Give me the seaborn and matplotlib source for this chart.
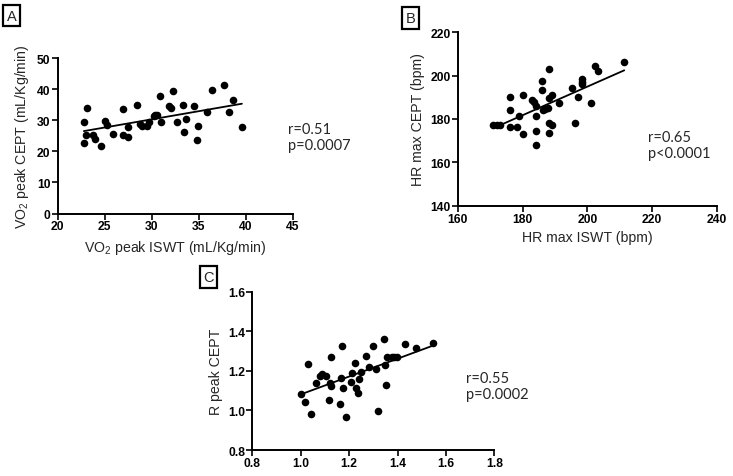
import numpy as np
import pandas as pd
import seaborn as sns
import matplotlib.pyplot as plt
from matplotlib.ticker import MultipleLocator, FormatStrFormatter

# panel A: VO2 peak
vo2_iswt = [22.8, 22.8, 23.1, 23.0, 23.8, 24.0, 24.6, 25.0, 25.3, 25.9,
            27.0, 27.0, 27.5, 27.5, 28.5, 28.8, 29.0, 29.5, 29.7, 30.3,
            30.4, 30.6, 30.9, 31.0, 31.8, 32.1, 32.3, 32.7, 33.3, 33.4,
            33.7, 34.5, 34.9, 34.8, 35.9, 36.4, 37.7, 38.2, 38.7, 39.6]
vo2_cept = [22.8, 29.4, 34.0, 25.2, 25.3, 23.9, 21.8, 29.8, 28.5, 25.7,
            33.6, 25.4, 24.8, 28.0, 34.9, 28.8, 28.3, 28.1, 29.4, 31.4,
            31.8, 31.8, 37.8, 29.5, 34.6, 34.0, 39.5, 29.6, 35.0, 26.3,
            30.5, 34.6, 28.3, 23.7, 32.8, 39.9, 41.5, 32.6, 36.5, 27.8]

# panel B: HR max
hr_iswt = [171.0, 172.0, 173.1, 176.2, 176.2, 176.2, 178.2, 179.0, 180.1, 180.1,
           182.8, 183.4, 184.1, 184.1, 184.1, 184.1, 185.9, 185.9, 186.2, 186.9,
           187.9, 188.2, 188.2, 188.2, 188.2, 189.0, 189.2, 191.3, 195.2, 196.2,
           197.2, 198.3, 198.3, 198.3, 201.2, 202.3, 203.3, 211.4]
hr_cept = [177.4, 177.4, 177.4, 190.3, 184.3, 176.3, 176.3, 181.2, 191.2, 173.2,
           188.6, 187.7, 186.2, 181.2, 174.3, 168.2, 197.4, 193.5, 184.2, 184.6,
           185.1, 203.2, 189.7, 178.3, 173.4, 177.4, 191.2, 187.2, 194.2, 178.3,
           190.3, 198.5, 197.3, 196.0, 187.2, 204.6, 202.3, 206.2]

# panel C: R peak
r_iswt = [1.003, 1.019, 1.031, 1.043, 1.064, 1.079, 1.088, 1.106, 1.125, 1.116,
          1.120, 1.125, 1.161, 1.170, 1.167, 1.173, 1.189, 1.206, 1.213, 1.224,
          1.228, 1.237, 1.241, 1.251, 1.269, 1.281, 1.299, 1.312, 1.320, 1.344,
          1.348, 1.352, 1.356, 1.376, 1.387, 1.398, 1.429, 1.476, 1.547]
r_cept = [1.085, 1.044, 1.237, 0.983, 1.139, 1.176, 1.183, 1.174, 1.272, 1.054,
          1.139, 1.122, 1.034, 1.324, 1.166, 1.113, 0.965, 1.144, 1.188, 1.240,
          1.112, 1.088, 1.157, 1.194, 1.277, 1.221, 1.326, 1.210, 0.998, 1.362,
          1.232, 1.127, 1.270, 1.270, 1.270, 1.270, 1.338, 1.313, 1.343]

sns.set_style("ticks")
plt.rcParams['font.family'] = ['Liberation Sans', 'DejaVu Sans']
plt.rcParams['mathtext.fontset'] = 'custom'
plt.rcParams['mathtext.rm'] = 'Liberation Sans'
plt.rcParams['mathtext.it'] = 'Liberation Sans'

W, H = 733, 477
fig = plt.figure(figsize=(W / 100, H / 100), dpi=100)


def px_axes(left, top, right, bottom):
    return fig.add_axes([left / W, 1 - bottom / H, (right - left) / W, (bottom - top) / H])


def style(ax, xlim, ylim, xstep, ystep, xlabel, ylabel, fmt=None):
    ax.set_xlim(*xlim)
    ax.set_ylim(*ylim)
    ax.xaxis.set_major_locator(MultipleLocator(xstep))
    ax.yaxis.set_major_locator(MultipleLocator(ystep))
    if fmt:
        ax.xaxis.set_major_formatter(FormatStrFormatter(fmt))
        ax.yaxis.set_major_formatter(FormatStrFormatter(fmt))
    sns.despine(ax=ax)
    for s in ['left', 'bottom']:
        ax.spines[s].set_linewidth(1.4)
        ax.spines[s].set_color('black')
    ax.tick_params(direction='out', length=4, width=1.2, colors='black', labelsize=8.7, pad=1)
    for lab in ax.get_xticklabels() + ax.get_yticklabels():
        lab.set_fontweight('bold')
    ax.set_xlabel(xlabel, fontsize=10.2, labelpad=4)
    ax.set_ylabel(ylabel, fontsize=10.2, labelpad=4)
    ax.set_facecolor('white')


def panel(ax, x, y):
    df = pd.DataFrame({'x': x, 'y': y})
    sns.regplot(data=df, x='x', y='y', ax=ax, ci=None, color='black',
                scatter_kws={'s': 30, 'alpha': 1, 'linewidths': 0},
                line_kws={'linewidth': 1.3})


axA = px_axes(57.5, 59.3, 292.7, 214.5)
panel(axA, vo2_iswt, vo2_cept)
style(axA, (20, 45), (0, 50), 5, 10,
      'VO$_2$ peak ISWT (mL/Kg/min)', 'VO$_2$ peak CEPT (mL/Kg/min)')

axB = px_axes(457.7, 33.3, 716.9, 206.7)
panel(axB, hr_iswt, hr_cept)
style(axB, (160, 240), (140, 220), 20, 20, 'HR max ISWT (bpm)', 'HR max CEPT (bpm)')

axC = px_axes(252.3, 292.7, 494.3, 451)
panel(axC, r_iswt, r_cept)
style(axC, (0.8, 1.8), (0.8, 1.6), 0.2, 0.2, '', 'R peak CEPT', fmt='%.1f')

stats = [(288, 138, 'r=0.51\np=0.0007'),
         (648, 146, 'r=0.65\np<0.0001'),
         (466, 387, 'r=0.55\np=0.0002')]
for x, y, s in stats:
    fig.text(x / W, 1 - y / H, s, fontsize=10.5, family=['Lato', 'DejaVu Sans'],
             va='center', ha='left', linespacing=1.2)

labels = [(11.7, 16.7, 'A'), (410.5, 19, 'B'), (208.5, 278, 'C')]
for x, y, s in labels:
    fig.text(x / W, 1 - y / H, s, fontsize=10.5, ha='center', va='center',
             bbox=dict(boxstyle='square,pad=0.25', fc='white', ec='black', lw=1.6))

fig.savefig('out.png', dpi=100, facecolor='white')
